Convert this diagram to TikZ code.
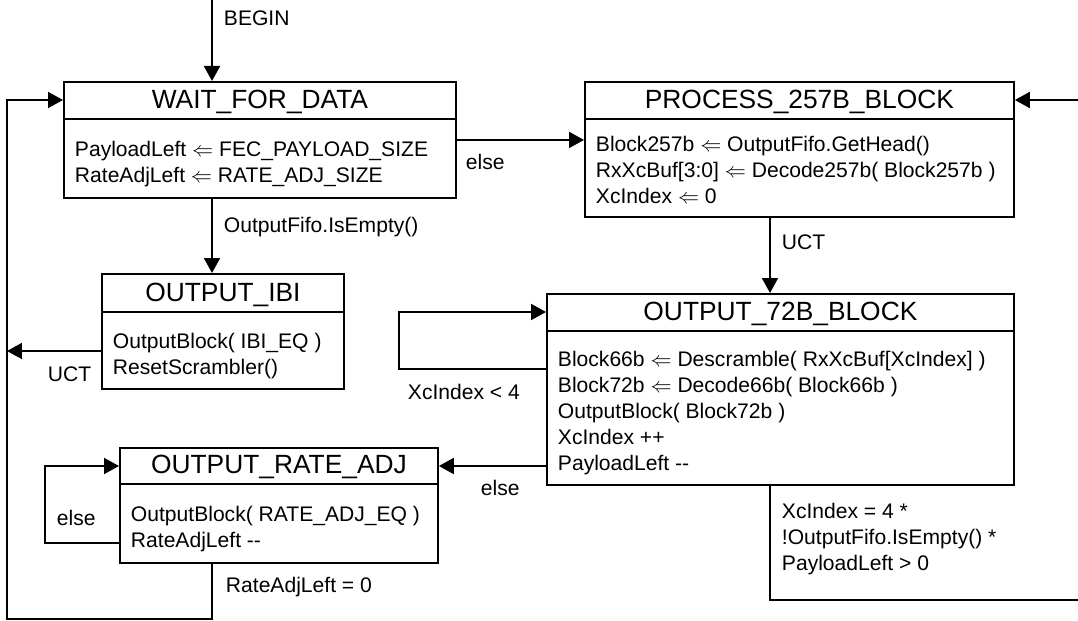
\documentclass[tikz,border=0pt]{standalone}
\usepackage{fontspec}
\setmainfont{Liberation Sans}
\usetikzlibrary{calc,arrows.meta}

\begin{document}
\begin{tikzpicture}[x=0.02cm,y=-0.02cm,line width=1.1pt,
  statebox/.style={draw,inner sep=0pt,anchor=north west},
  titletext/.style={font=\fontsize{15}{17}\selectfont,inner sep=0pt,anchor=base},
  bodytext/.style={font=\fontsize{12}{14.8}\selectfont,align=left,inner sep=0pt,anchor=north west},
  lbl/.style={font=\fontsize{12}{14.8}\selectfont,align=left,inner sep=0pt,anchor=base west},
  arr/.style={-{Triangle[length=0.3cm,width=0.32cm]}}]

\useasboundingbox (0,0) rectangle (1078,621);

% states
\node[statebox, minimum width=7.84cm, minimum height=2.32cm] (wait) at (63,81) {};
\node[statebox, minimum width=4.84cm, minimum height=2.30cm] (ibi) at (101,273) {};
\node[statebox, minimum width=6.36cm, minimum height=2.30cm] (rate) at (119,447) {};
\node[statebox, minimum width=8.58cm, minimum height=2.70cm] (proc) at (584,81) {};
\node[statebox, minimum width=9.34cm, minimum height=3.82cm] (blk) at (546,293) {};

\draw ($(wait.north west)+(0,38)$) -- ($(wait.north east)+(0,38)$);
\draw ($(ibi.north west)+(0,39)$) -- ($(ibi.north east)+(0,39)$);
\draw ($(rate.north west)+(0,37)$) -- ($(rate.north east)+(0,37)$);
\draw ($(proc.north west)+(0,38)$) -- ($(proc.north east)+(0,38)$);
\draw ($(blk.north west)+(0,38)$) -- ($(blk.north east)+(0,38)$);

\node[titletext] (waitT) at ($(wait.north)+(0,27.5)$) {WAIT\_FOR\_DATA};
\node[titletext] (ibiT) at ($(ibi.north)+(0,28.5)$) {OUTPUT\_IBI};
\node[titletext] (rateT) at ($(rate.north)+(0,26.5)$) {OUTPUT\_RATE\_ADJ};
\node[titletext] (procT) at ($(proc.north)+(0,27.5)$) {PROCESS\_257B\_BLOCK};
\node[titletext] (blkT) at ($(blk.north)+(0,27.5)$) {OUTPUT\_72B\_BLOCK};

\node[bodytext] (waitB) at ($(wait.north west)+(11,59)$)
  {PayloadLeft $\Leftarrow$ FEC\_PAYLOAD\_SIZE\\RateAdjLeft $\Leftarrow$ RATE\_ADJ\_SIZE};
\node[bodytext] (ibiB) at ($(ibi.north west)+(11,59)$)
  {OutputBlock( IBI\_EQ )\\ResetScrambler()};
\node[bodytext] (rateB) at ($(rate.north west)+(11,58)$)
  {OutputBlock( RATE\_ADJ\_EQ )\\RateAdjLeft -{}-};
\node[bodytext] (procB) at ($(proc.north west)+(11,54)$)
  {Block257b $\Leftarrow$ OutputFifo.GetHead()\\RxXcBuf[3:0] $\Leftarrow$ Decode257b( Block257b )\\XcIndex $\Leftarrow$ 0};
\node[bodytext] (blkB) at ($(blk.north west)+(11,57)$)
  {Block66b $\Leftarrow$ Descramble( RxXcBuf[XcIndex] )\\Block72b $\Leftarrow$ Decode66b( Block66b )\\OutputBlock( Block72b )\\XcIndex ++\\PayloadLeft -{}-};

% transitions
\coordinate (begin) at (212,0);
\coordinate (uct) at (770,0);
\coordinate (bottomleft) at (7,619);
\coordinate (bottomright) at (1085,600);

\draw[arr] (begin) -- (begin |- wait.north);
\node[lbl] (beginL) at (223,26) {BEGIN};

\draw[arr] (wait.south -| begin) -- (ibi.north -| begin);
\node[lbl] (emptyL) at (223,233) {OutputFifo.IsEmpty()};

\draw[arr] (wait.east) -- (wait.east -| proc.west);
\node[lbl] (elseA) at (465,170) {else};

\draw[arr] ($(ibi.north west)+(0,78)$) coordinate (ibiout) -- (ibiout -| bottomleft);
\node[lbl] (uctA) at (47,381) {UCT};

\draw[arr] (proc.south -| uct) -- (blk.north -| uct);
\node[lbl] (uctB) at (781,250) {UCT};

\draw[arr] ($(blk.north west)+(0,76)$) -- ++(-147,0) |- ($(blk.north west)+(0,19)$);
\node[lbl] (loopL) at (407,399) {XcIndex < 4};

\draw[arr] ($(blk.north west)+(0,173)$) -- ($(rate.north east)+(0,19)$);
\node[lbl] (elseB) at (480,495) {else};

\draw[arr] ($(rate.north west)+(0,96)$) -- ++(-74,0) |- ($(rate.north west)+(0,19)$);
\node[lbl] (elseC) at (56,525) {else};

\draw[arr] (rate.south -| begin) |- (bottomleft) |- ($(wait.north west)+(0,19)$);
\node[lbl] (zeroL) at (225,592) {RateAdjLeft = 0};

\draw[arr] (blk.south -| uct) |- (bottomright) |- ($(proc.north east)+(0,19)$);
\node[bodytext] (nextL) at (781,502) {XcIndex = 4 *\\!OutputFifo.IsEmpty() *\\PayloadLeft > 0};

\end{tikzpicture}
\end{document}
